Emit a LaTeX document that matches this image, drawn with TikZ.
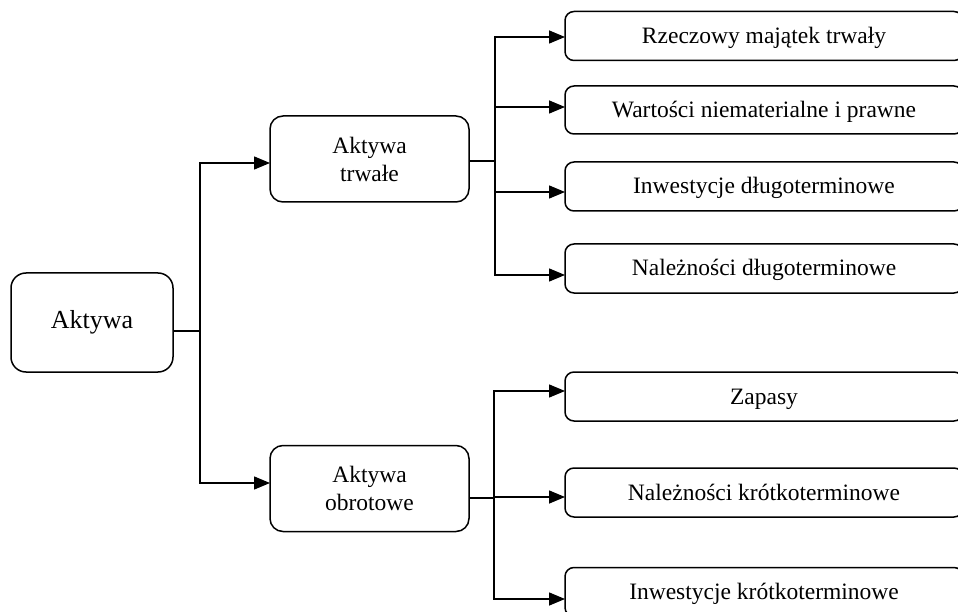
\documentclass[tikz,border=0pt]{standalone}
\usepackage{fontspec}
\setmainfont{Liberation Serif}
\usetikzlibrary{arrows.meta}
\begin{document}
\begin{tikzpicture}[x=1pt,y=-1pt,
  every node/.style={inner sep=0pt, outer sep=0pt},
  leftbox/.style={draw, line width=1.5pt, rounded corners=15pt, minimum width=162pt, minimum height=99pt, font=\fontsize{26}{30}\selectfont},
  midbox/.style={draw, line width=1.5pt, rounded corners=13pt, minimum width=199pt, minimum height=86pt, align=center, font=\fontsize{23.5}{28}\selectfont},
  rightbox/.style={draw, line width=1.5pt, rounded corners=9pt, minimum width=398pt, minimum height=49pt, text height=18pt, text depth=3pt, font=\fontsize{23.5}{28}\selectfont},
  conn/.style={line width=1.5pt},
  arr/.style={line width=1.5pt, -{Triangle[length=16pt,width=13pt]}}
]
\useasboundingbox (0,0) rectangle (958,612);
\fill[white] (0,0) rectangle (958,612);

\node[leftbox] (aktywa) at (92,322.5) {Aktywa};
\node[midbox] (trwale) at (369.5,159) {Aktywa\\trwałe};
\node[midbox] (obrot) at (369.5,488.5) {Aktywa\\obrotowe};

\node[rightbox] (r1) at (764,36) {Rzeczowy majątek trwały};
\node[rightbox, minimum height=48pt] (r2) at (764,110) {Wartości niematerialne i prawne};
\node[rightbox] (r3) at (764,186.5) {Inwestycje długoterminowe};
\node[rightbox] (r4) at (764,268.5) {Należności długoterminowe};
\node[rightbox] (r5) at (764,396.5) {Zapasy};
\node[rightbox] (r6) at (764,492.5) {Należności krótkoterminowe};
\node[rightbox] (r7) at (764,592) {Inwestycje krótkoterminowe};

% from Aktywa
\coordinate (j0) at (200,331);
\coordinate (a1) at (200,163);
\coordinate (a2) at (200,483);
\draw[conn] (aktywa.east |- j0) -- (j0);
\draw[arr] (j0) -- (a1) -- (trwale.west |- a1);
\draw[arr] (j0) -- (a2) -- (obrot.west |- a2);

% from Aktywa trwale
\coordinate (t0) at (495,161);
\coordinate (t1) at (495,37);
\coordinate (t2) at (495,107);
\coordinate (t3) at (495,192);
\coordinate (t4) at (495,275);
\draw[conn] (trwale.east |- t0) -- (t0);
\draw[arr] (t0) -- (t1) -- (r1.west |- t1);
\draw[arr] (t0) -- (t2) -- (r2.west |- t2);
\draw[arr] (t0) -- (t3) -- (r3.west |- t3);
\draw[arr] (t0) -- (t4) -- (r4.west |- t4);

% from Aktywa obrotowe
\coordinate (o0) at (494,498);
\coordinate (o1) at (494,391);
\coordinate (o2) at (494,497);
\coordinate (o3) at (494,599);
\draw[conn] (obrot.east |- o0) -- (o0);
\draw[arr] (o0) -- (o1) -- (r5.west |- o1);
\draw[arr] (o0) -- (o2) -- (r6.west |- o2);
\draw[arr] (o0) -- (o3) -- (r7.west |- o3);
\end{tikzpicture}
\end{document}
